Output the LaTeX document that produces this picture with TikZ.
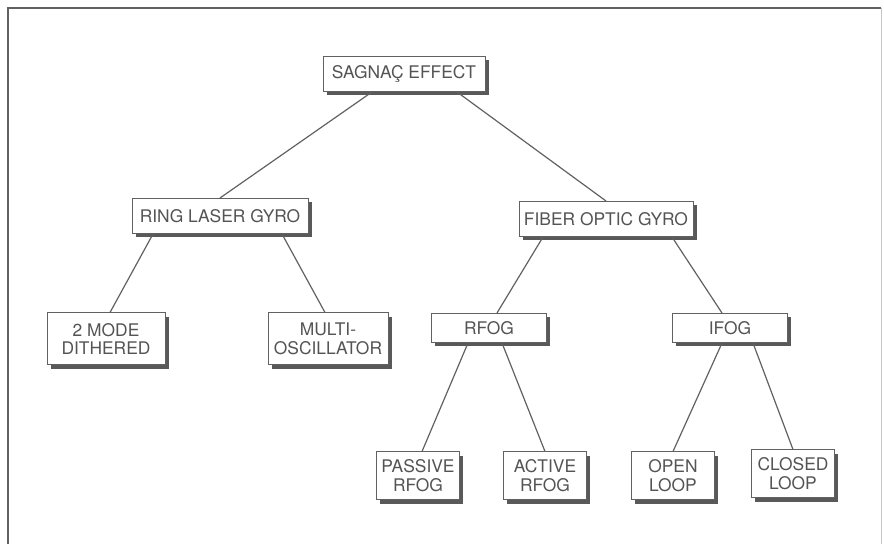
\documentclass[tikz,border=0pt]{standalone}
\usepackage{fontspec}
\setmainfont{TeX Gyre Heros}
\usepackage{tikz}
\usetikzlibrary{shadows,positioning}
\definecolor{inkgray}{gray}{0.33}
\definecolor{linegray}{gray}{0.38}
\definecolor{shadowgray}{gray}{0.35}
\tikzset{link/.style = {
    draw=linegray,
    line width=0.6pt,
  }
}

\begin{document}
\begin{tikzpicture}[x=0.5pt, y=-0.5pt]
          % vertices
          \tikzstyle{gyro} = [rectangle, draw=linegray, line width=0.5pt, fill=white, text=inkgray, align=center, inner sep=0pt, font=\fontsize{8.7}{9.4}\selectfont, drop shadow={shadow xshift=1.9pt, shadow yshift=-1.9pt, fill=shadowgray, opacity=1}]
          \tikzstyle{wide} = [gyro, minimum height=17.5pt]
          \tikzstyle{small} = [gyro, minimum height=14.5pt, minimum width=57.5pt]
          \tikzstyle{leaf} = [gyro, minimum height=24pt, minimum width=41.5pt]

          \useasboundingbox (0,0) rectangle (884,544);
          \draw[linegray, line width=0.9pt] (8,544) -- (8,8) -- (881,8);
          \draw[gray!45, line width=0.5pt] (881,8) -- (881,544);

          \node[wide, minimum width=81pt] (sagnac) at (404,74) {SAGNAÇ EFFECT};

          \node[wide, minimum width=88pt] (rlg) at (220,216) {RING LASER GYRO};
          \node[wide, minimum width=87pt] (fog) at (606,219) {FIBER OPTIC GYRO};

          \node[gyro, minimum width=59pt, minimum height=26pt] (dither) at (106,339) {2 MODE\\DITHERED};
          \node[gyro, minimum width=60pt, minimum height=26pt] (multi) at (328,339) {MULTI-\\OSCILLATOR};

          \node[small] (rfog) at (489,328) {RFOG};
          \node[small] (ifog) at (730,328) {IFOG};

          \node[leaf] (passive) at (418,476) {PASSIVE\\RFOG};
          \node[leaf] (active)  at (545,476) {ACTIVE\\RFOG};
          \node[leaf] (open)    at (673,476) {OPEN\\LOOP};
          \node[leaf] (closed)  at (793,474) {CLOSED\\LOOP};

          % edges
          \draw[link] ([xshift=-16pt] sagnac.south) -- (rlg.north);
          \draw[link] ([xshift=26.5pt] sagnac.south) -- (fog.north);
          \draw[link] ([xshift=-33.5pt] rlg.south) -- ([xshift=2pt] dither.north);
          \draw[link] ([xshift=31pt] rlg.south) -- ([xshift=-1.5pt] multi.north);
          \draw[link] ([xshift=-31.5pt] fog.south) -- ([xshift=4pt] rfog.north);
          \draw[link] ([xshift=33pt] fog.south) -- ([xshift=-4pt] ifog.north);
          \draw[link] ([xshift=-10.5pt] rfog.south) -- ([xshift=2pt] passive.north);
          \draw[link] ([xshift=6.5pt] rfog.south) -- (active.north);
          \draw[link] ([xshift=-4pt] ifog.south) -- (open.north);
          \draw[link] ([xshift=11.5pt] ifog.south) -- (closed.north);
\end{tikzpicture}
\end{document}
